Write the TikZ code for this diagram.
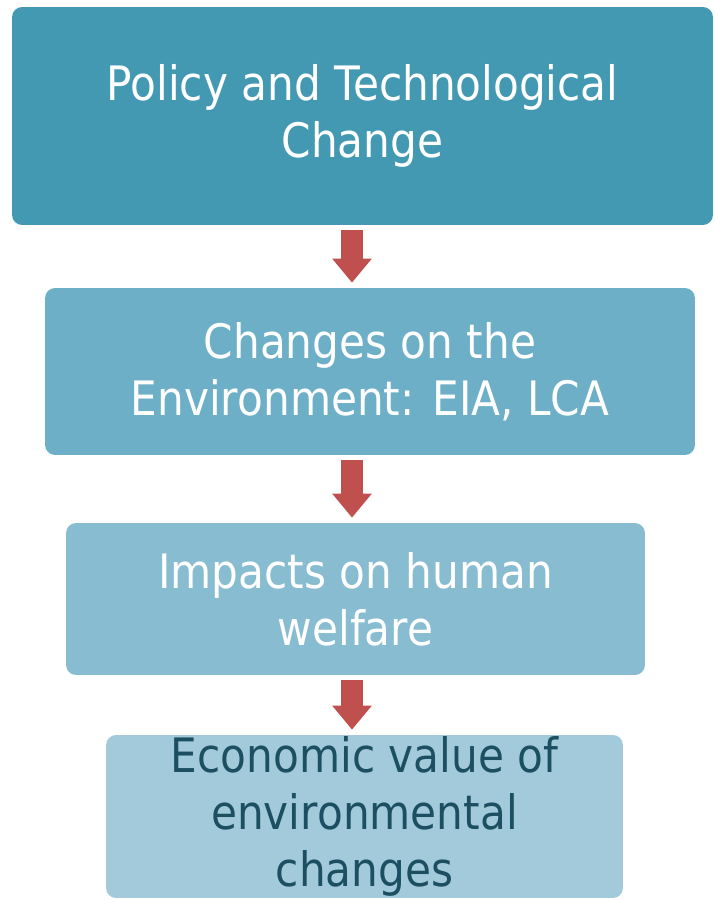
\documentclass[tikz,border=0pt]{standalone}
\usepackage{fontspec}
\setmainfont[FakeStretch=0.89]{DejaVu Sans}
\usetikzlibrary{arrows.meta,calc,positioning}

\definecolor{policyblue}{HTML}{4399B2}
\definecolor{envblue}{HTML}{6CAFC7}
\definecolor{impactblue}{HTML}{88BCD0}
\definecolor{valueblue}{HTML}{A2CADB}
\definecolor{valuetext}{HTML}{1B4F61}
\definecolor{flowred}{HTML}{C0504D}

\begin{document}
\begin{tikzpicture}[x=0.02cm,y=-0.02cm,
  box/.style={rounded corners=0.2cm, inner sep=0pt, align=center,
    font=\fontsize{27}{32.4}\selectfont, text=white},
  flow/.style={draw=flowred, line width=0.44cm,
    -{Triangle[width=0.76cm,length=0.48cm]},
    shorten <=0.1cm, shorten >=0.1cm}]
  \useasboundingbox (0,0) rectangle (715,900);
  \coordinate(ax) at (352,0);
  \node[box, fill=policyblue, minimum width=14.02cm, minimum height=4.36cm]
    (policy) at (362.5,116) {Policy and Technological\\Change};
  \node[box, fill=envblue, minimum width=13cm, minimum height=3.34cm]
    (env) at (370,371.5) {Changes on the\\Environment: EIA, LCA};
  \node[box, fill=impactblue, minimum width=11.58cm, minimum height=3.04cm]
    (impact) at (355.5,599) {Impacts on human\\welfare};
  \node[box, fill=valueblue, text=valuetext, minimum width=10.34cm, minimum height=3.26cm]
    (value) at (364.5,816.5) {Economic value of\\environmental\\changes};
  \draw[flow](policy.south -| ax)--(env.north -| ax);
  \draw[flow](env.south -| ax)--(impact.north -| ax);
  \draw[flow](impact.south -| ax)--(value.north -| ax);
\end{tikzpicture}
\end{document}
